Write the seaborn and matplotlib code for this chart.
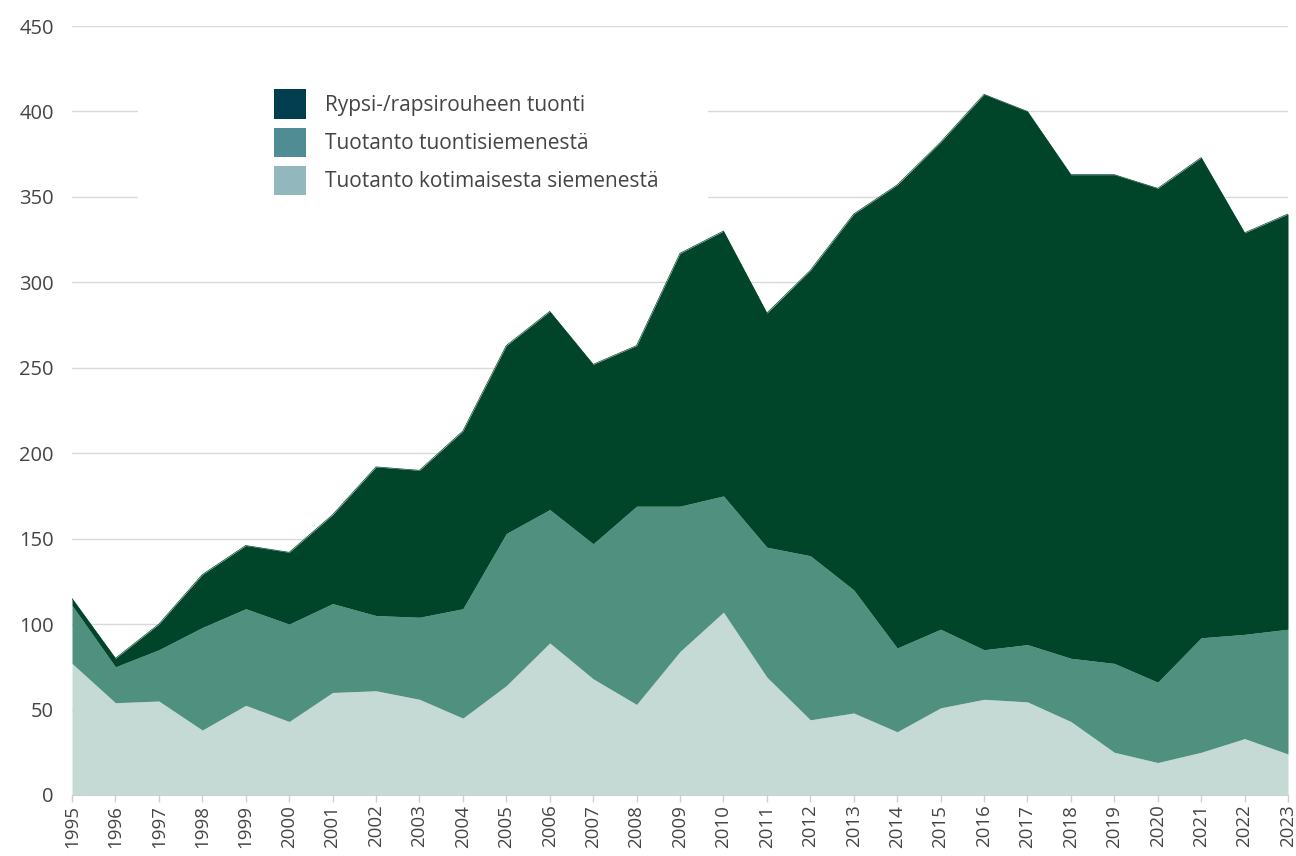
import numpy as np
import pandas as pd
import matplotlib
matplotlib.use("Agg")
import matplotlib.pyplot as plt
from matplotlib.patches import Patch, Rectangle
import seaborn as sns

years = list(range(1995, 2024))
# cumulative boundaries
domestic = [77, 54, 55, 38, 52.5, 43, 60, 61, 56, 45, 64, 89, 68, 53, 84, 107, 69, 44, 48, 37,
            51, 56, 54.5, 43, 25, 19, 25, 33, 24]
domestic_plus_import_seed = [111, 75, 85, 98, 109, 100, 112, 105, 104, 109, 153, 167, 147, 169, 169, 175,
                             145, 140, 120, 86, 97, 85, 88, 80, 77, 66, 92, 94, 97]
total = [115, 80, 100, 129, 146, 142, 164, 192, 190, 213, 263, 283, 252, 263, 317, 330, 282, 307,
         340, 357, 382, 410, 400, 363, 363, 355, 373, 329, 340]

labels = ["Rypsi-/rapsirouheen tuonti", "Tuotanto tuontisiemenestä", "Tuotanto kotimaisesta siemenestä"]
fill_colors = ["#00442a", "#4f907f", "#c6dad5"]
legend_colors = ["#023e50", "#4f8c94", "#92b8bd"]

df = pd.DataFrame({"year": years, "domestic": domestic,
                   "mid": domestic_plus_import_seed, "total": total})

sns.set_style("white")
plt.rcParams["font.family"] = ["Open Sans", "DejaVu Sans"]

fig = plt.figure(figsize=(12.96, 8.56), dpi=100)
ax = fig.add_axes([72/1296, (856-795)/856, (1288-72)/1296, (795-26)/856])

ax.fill_between(df["year"], 0, df["domestic"], color=fill_colors[2], linewidth=0, zorder=2)
ax.fill_between(df["year"], df["domestic"], df["mid"], color=fill_colors[1], linewidth=0, zorder=2)
ax.fill_between(df["year"], df["mid"], df["total"], color=fill_colors[0], linewidth=0, zorder=2)
sns.lineplot(data=df, x="year", y="total", ax=ax, color=fill_colors[0], linewidth=0.5, zorder=3)

ax.set_xlim(1995, 2023)
ax.set_ylim(0, 450)
ax.set_yticks(range(0, 451, 50))
ax.set_xticks(years)
ax.set_xticklabels([str(y) for y in years], rotation=90)
ax.set_xlabel("")
ax.set_ylabel("")
ax.grid(axis="y", color="#d9d9d9", linewidth=1, zorder=0)
ax.grid(axis="x", visible=False)
ax.set_axisbelow(True)
for s in ["top", "right", "left"]:
    ax.spines[s].set_visible(False)
ax.spines["bottom"].set_color("#d0d0d0")
ax.tick_params(axis="y", length=0, pad=13, labelsize=14.5, labelcolor="#444444")
ax.tick_params(axis="x", length=5, width=1, color="#d0d0d0", pad=2, labelsize=13.5,
               labelcolor="#444444", bottom=True)

# white box behind legend (covers gridlines)
ax.add_patch(Rectangle(((138-72)/1216, (795-200)/769), (708-138)/1216, (200-85)/769,
                       transform=ax.transAxes, facecolor="white", edgecolor="none", zorder=4))

handles = [Patch(facecolor=c, edgecolor="none") for c in legend_colors]
leg = ax.legend(handles, labels, loc="upper left",
                bbox_to_anchor=((266-72)/1216, (795-81)/769), frameon=False, borderaxespad=0,
                fontsize=15, handlelength=1.54, handleheight=1.8, handletextpad=0.87,
                labelspacing=0.42, labelcolor="#444444")
leg.set_zorder(5)

fig.savefig("out.png", dpi=100)
